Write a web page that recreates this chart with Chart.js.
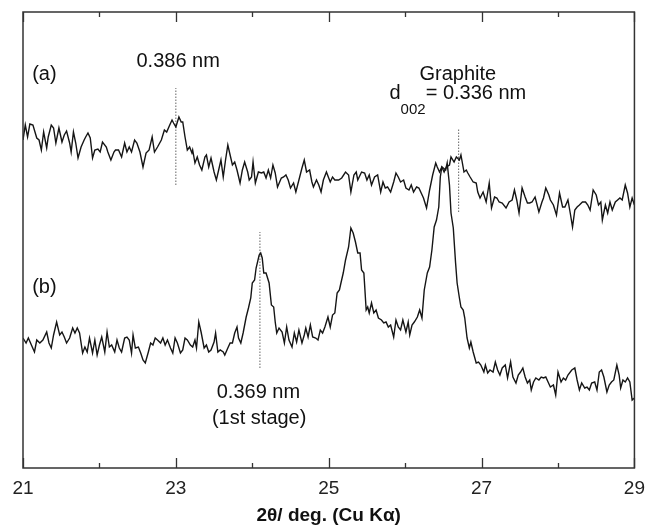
<!DOCTYPE html>
<html><head><meta charset="utf-8">
<script src="https://cdn.jsdelivr.net/npm/chart.js@4.4.0/dist/chart.umd.min.js"></script>
<style>html,body{margin:0;padding:0;background:#fff;}#wrap{width:654px;height:529px;}</style>
</head><body><div id="wrap"><canvas id="c" width="654" height="529"></canvas></div>
<script>
// 2θ (deg) and intensity (a.u.) for pattern (a)
const aTheta = [
21.00,21.03,21.06,21.09,21.13,21.18,21.21,21.24,21.27,21.31,
21.33,21.37,21.40,21.43,21.47,21.51,21.54,21.57,21.61,21.63,
21.66,21.69,21.72,21.76,21.80,21.82,21.85,21.88,21.91,21.94,
21.98,22.01,22.04,22.09,22.11,22.15,22.19,22.21,22.25,22.29,
22.33,22.36,22.39,22.42,22.46,22.49,22.53,22.57,22.61,22.65,
22.69,22.72,22.76,22.81,22.85,22.88,22.92,22.95,22.97,23.00,
23.04,23.07,23.09,23.12,23.15,23.18,23.21,23.22,23.25,23.28,
23.31,23.34,23.38,23.40,23.43,23.46,23.50,23.53,23.56,23.59,
23.62,23.65,23.68,23.71,23.74,23.77,23.80,23.84,23.87,23.90,
23.94,23.96,23.99,24.01,24.04,24.08,24.12,24.15,24.18,24.21,
24.24,24.27,24.30,24.33,24.38,24.41,24.44,24.47,24.50,24.54,
24.57,24.61,24.65,24.68,24.71,24.75,24.78,24.80,24.84,24.87,
24.90,24.93,24.97,25.00,
25.02,25.05,25.08,25.13,25.17,25.22,25.26,25.29,25.33,25.36,
25.38,25.43,25.47,25.50,25.53,25.56,25.60,25.64,25.68,25.71,
25.74,25.77,25.81,25.85,25.88,25.91,25.94,25.98,26.01,26.05,
26.08,26.11,26.15,26.18,26.21,26.24,26.28,26.32,26.36,26.40,
26.42,26.45,26.48,26.51,26.54,26.58,26.60,26.64,26.67,26.71,
26.73,26.77,26.80,26.82,26.85,26.89,26.93,26.95,26.98,27.02,
27.06,27.10,27.13,27.17,27.20,27.23,27.27,27.32,27.36,27.40,
27.43,27.46,27.49,27.53,27.57,27.60,27.63,27.66,27.70,27.75,
27.79,27.81,27.84,27.88,27.90,27.94,27.98,28.02,28.06,28.09,
28.13,28.16,28.19,28.22,28.25,28.28,28.32,28.36,28.39,28.42,
28.46,28.50,28.53,28.56,28.58,28.62,28.65,28.68,28.71,28.75,
28.78,28.81,28.84,28.88,28.91,28.94,28.97,29.00];
const aIntensity = [
328,343,331,344,343,330,328,318,336,320,
331,343,340,325,340,326,333,337,325,316,
336,325,310,321,328,331,335,330,310,318,
319,316,326,321,316,308,316,318,318,311,
325,316,321,316,328,325,316,301,315,318,
331,316,321,328,338,336,343,348,345,341,
351,346,346,331,318,321,315,318,305,311,
303,298,311,313,301,310,296,288,298,308,
291,308,323,313,303,306,298,285,298,306,
296,288,291,306,285,296,295,296,290,298,
290,303,295,281,290,291,293,288,280,285,
276,288,300,308,296,298,286,281,288,283,
276,288,296,290,
286,291,288,288,290,296,293,276,293,296,
288,296,295,288,293,283,291,293,276,286,
280,281,276,286,295,291,286,288,280,278,
283,276,281,280,275,270,260,278,293,305,
301,296,301,296,301,303,311,306,311,308,
313,296,298,295,291,286,285,276,270,276,
266,285,260,271,270,266,265,260,266,268,
278,268,255,280,271,265,265,266,271,256,
266,270,280,273,268,263,253,275,261,261,
268,255,241,258,261,263,266,266,263,258,
278,273,263,266,248,263,255,266,258,266,
268,270,268,283,275,261,270,263];

// 2θ (deg) and intensity (a.u.) for pattern (b)
const bTheta = [
21.00,21.04,21.07,21.11,21.15,21.18,21.22,21.26,21.31,21.34,
21.37,21.40,21.44,21.48,21.51,21.54,21.57,21.61,21.65,21.68,
21.71,21.74,21.78,21.81,21.84,21.87,21.91,21.94,21.97,22.00,
22.03,22.07,22.10,22.13,22.16,22.20,22.23,22.26,22.29,22.33,
22.36,22.39,22.42,22.44,22.47,22.51,22.54,22.57,22.60,22.64,
22.67,22.70,22.73,22.76,22.80,22.83,22.86,22.89,22.93,22.96,
22.99,23.02,23.06,23.09,23.12,23.15,23.19,23.22,23.25,23.27,
23.30,23.33,23.37,23.40,23.43,23.46,23.50,23.52,23.55,23.58,
23.62,23.64,23.68,23.71,23.74,23.77,23.80,23.82,23.85,23.88,
23.92,23.95,23.98,24.00,24.03,24.05,24.09,24.11,24.13,24.15,
24.18,24.22,24.25,24.28,24.30,24.32,24.35,24.39,24.42,24.45,
24.48,24.52,24.55,24.58,24.61,24.65,24.68,24.70,24.73,24.76,
24.79,24.83,24.86,24.89,24.92,24.95,24.99,25.02,25.05,25.08,
25.11,25.14,25.16,25.19,25.22,25.26,25.29,25.32,25.35,25.38,
25.41,25.43,25.46,25.49,25.51,25.53,25.56,25.59,25.62,25.65,
25.69,25.72,25.75,25.78,25.81,25.85,25.88,25.91,25.94,25.97,
26.01,26.04,26.06,26.09,26.12,26.16,26.19,26.22,26.25,26.29,
26.32,26.35,26.38,26.41,26.44,26.46,26.48,26.50,26.53,26.55,
26.58,26.60,26.63,26.66,26.68,26.71,26.73,26.76,26.78,26.81,
26.84,26.86,26.89,26.93,26.96,26.99,27.03,27.05,27.08,27.11,
27.15,27.18,27.21,27.24,27.27,27.31,27.34,27.38,27.41,27.45,
27.48,27.51,27.54,27.57,27.60,27.63,27.65,27.68,27.71,27.75,
27.78,27.81,27.84,27.87,27.90,27.94,27.97,28.00,28.04,28.07,
28.10,28.13,28.18,28.22,28.25,28.28,28.31,28.35,28.38,28.41,
28.44,28.48,28.51,28.54,28.57,28.60,28.64,28.67,28.70,28.73,
28.77,28.80,28.82,28.85,28.88,28.91,28.94,28.97,29.00];
const bIntensity = [
130,125,130,123,116,128,125,128,136,125,
120,133,146,133,136,131,125,130,140,135,
140,135,115,121,116,130,115,128,113,123,
131,116,136,121,123,116,128,120,116,130,
131,128,115,133,120,121,115,108,105,116,
125,123,130,128,125,130,123,128,120,115,
130,125,115,118,130,128,123,121,128,120,
146,136,120,123,116,118,126,135,116,118,
116,113,120,125,125,135,141,130,125,135,
151,160,170,185,188,200,213,215,210,195,
195,185,163,161,146,135,140,136,125,141,
128,121,135,126,138,125,133,140,131,143,
131,130,128,138,135,141,151,141,153,155,
175,178,185,195,208,221,240,235,226,215,
215,198,195,158,161,155,165,155,158,150,
148,145,146,141,143,131,148,141,138,148,
136,146,133,143,146,151,158,150,178,195,
201,218,241,248,261,291,301,300,298,305,
283,255,240,205,185,170,161,158,150,130,
120,126,116,105,106,103,96,103,95,98,
96,106,98,93,100,103,90,106,91,85,
93,96,100,91,85,88,78,86,90,88,
91,90,91,86,81,83,73,96,86,90,
88,93,98,100,88,78,85,80,81,78,
85,86,78,96,98,91,76,83,86,88,
103,93,80,88,86,90,86,68,70];

const xMajorTicks = [21,23,25,27,29];
const xMinorTicks = [22,24,26,28];

// dotted reference lines: 2θ position and intensity span
const markerTheta = [23.0, 24.1, 26.7];
const markerLow = [283, 100, 256];
const markerHigh = [380, 236, 340];

// annotation texts and their anchor (2θ, intensity at baseline)
const labelTexts = ['(a)', '0.386 nm', 'Graphite', '(b)', '0.369 nm', '(1st stage)'];
const labelTheta = [21.28, 23.03, 26.69, 21.28, 24.08, 24.09];
const labelIntensity = [388, 401, 388, 175, 70, 44];
const dLabel = {pre: 'd', sub: '002', post: '= 0.336 nm', theta: 26.69, intensity: 369};

const FONT = "'Liberation Sans', Arial, sans-serif";

const pts = (xs, ys) => xs.map((x, i) => ({x: x, y: ys[i]}));
const datasets = [
  {data: pts(aTheta, aIntensity), borderColor: '#151515', borderWidth: 1.4, pointRadius: 0, tension: 0},
  {data: pts(bTheta, bIntensity), borderColor: '#151515', borderWidth: 1.4, pointRadius: 0, tension: 0}
];
markerTheta.forEach((t, i) => {
  datasets.push({data: [{x: t, y: markerLow[i]}, {x: t, y: markerHigh[i]}],
    borderColor: '#666', borderWidth: 1, borderDash: [1.5, 1.5], pointRadius: 0});
});

const framePlugin = {
  id: 'frame',
  afterDraw(chart) {
    const ctx = chart.ctx, ca = chart.chartArea, xs = chart.scales.x, ys = chart.scales.y;
    ctx.save();
    ctx.strokeStyle = '#333';
    ctx.lineWidth = 1.5;
    ctx.strokeRect(ca.left, ca.top, ca.right - ca.left, ca.bottom - ca.top);
    const tick = (v, len) => {
      const px = Math.round(xs.getPixelForValue(v)) + 0.5;
      ctx.beginPath();
      ctx.moveTo(px, ca.bottom); ctx.lineTo(px, ca.bottom - len);
      ctx.moveTo(px, ca.top); ctx.lineTo(px, ca.top + len);
      ctx.stroke();
    };
    ctx.lineWidth = 1.3;
    xMajorTicks.forEach(v => tick(v, 10));
    xMinorTicks.forEach(v => tick(v, 5));
    // text labels
    ctx.fillStyle = '#111';
    ctx.textAlign = 'center';
    ctx.textBaseline = 'alphabetic';
    ctx.font = '20px ' + FONT;
    labelTexts.forEach((t, i) => {
      ctx.fillText(t, xs.getPixelForValue(labelTheta[i]), ys.getPixelForValue(labelIntensity[i]));
    });
    // d002 label
    ctx.textAlign = 'left';
    const mainFont = '20px ' + FONT, subFont = '15px ' + FONT;
    ctx.font = mainFont; const w1 = ctx.measureText(dLabel.pre).width, w3 = ctx.measureText(dLabel.post).width;
    ctx.font = subFont; const w2 = ctx.measureText(dLabel.sub).width;
    const cx = xs.getPixelForValue(dLabel.theta), by = ys.getPixelForValue(dLabel.intensity);
    let x0 = cx - (w1 + w2 + w3) / 2;
    ctx.font = mainFont; ctx.fillText(dLabel.pre, x0, by);
    ctx.font = subFont; ctx.fillText(dLabel.sub, x0 + w1, by + 15);
    ctx.font = mainFont; ctx.fillText(dLabel.post, x0 + w1 + w2, by);
    ctx.restore();
  }
};

new Chart(document.getElementById('c'), {
  type: 'line',
  data: {datasets: datasets},
  options: {
    responsive: false,
    animation: false,
    layout: {padding: {left: 23, right: 10, top: 12, bottom: 0}},
    plugins: {legend: {display: false}, tooltip: {enabled: false}},
    scales: {
      x: {
        type: 'linear', min: 21, max: 29, position: 'bottom',
        afterBuildTicks: s => { s.ticks = xMajorTicks.map(v => ({value: v})); },
        afterFit: s => { s.height = 61; },
        grid: {display: false, drawTicks: false},
        border: {display: false},
        ticks: {font: {family: FONT, size: 19}, color: '#222', padding: 9, maxRotation: 0, autoSkip: false},
        title: {display: true, text: '2θ/ deg. (Cu Kα)', color: '#111',
          font: {family: FONT, size: 19, weight: 'bold'}, padding: {top: 0, bottom: 2}}
      },
      y: {type: 'linear', min: 0, max: 456, display: false}
    }
  },
  plugins: [framePlugin]
});
</script></body></html>
